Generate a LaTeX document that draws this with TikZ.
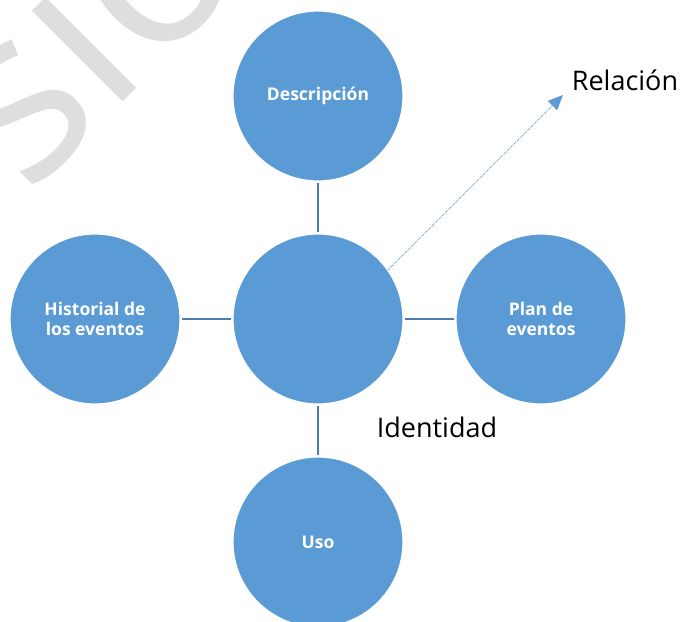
\documentclass[tikz,border=0pt]{standalone}
\usepackage{fontspec}
\setmainfont{Open Sans}
\usetikzlibrary{arrows.meta}
\definecolor{circblue}{HTML}{5B9BD5}
\definecolor{linkblue}{HTML}{4A7EB0}
\definecolor{wmgray}{HTML}{DEDEDE}
\begin{document}
\begin{tikzpicture}[x=1pt,y=-1pt,
  bubble/.style={circle, minimum size=170pt, inner sep=0pt, fill=circblue,
    draw=white, line width=1.2pt, text=white, align=center,
    font=\fontsize{17.5}{20}\selectfont\bfseries},
  link/.style={draw=linkblue, line width=2.6pt, shorten <=1pt, shorten >=1pt},
  relarrow/.style={draw=circblue, line width=1pt, dash pattern=on 1pt off 1pt,
    -{Triangle[length=15pt,width=13pt,fill=circblue]}},
  caption/.style={inner sep=0pt, font=\fontsize{27}{30}\selectfont},
  watermark/.style={inner sep=0pt, anchor=base, rotate=45, text=wmgray,
    font=\fontsize{240}{240}\selectfont}]
\useasboundingbox (0,0) rectangle (682,621);
\begin{scope}
  \clip (0,0) rectangle (682,621);
  \node[watermark] (wm) at (130,95) {\llap{Vers}i\rlap{ón}};
\end{scope}
\node[bubble] (top) at (318,96) {Descripción};
\node[bubble] (left) at (95,319) {Historial de\\los eventos};
\node[bubble] (center) at (318,319) {};
\node[bubble] (right) at (541,319) {Plan de\\eventos};
\node[bubble] (bottom) at (318,542) {Uso};
\draw[link] (top) -- (center);
\draw[link] (left) -- (center);
\draw[link] (right) -- (center);
\draw[link] (bottom) -- (center);
\coordinate (tip) at (563,95);
\draw[relarrow] (center.35) -- (tip);
\node[caption] (rel) at (625,80) {Relación};
\node[caption] (ident) at (437,427) {Identidad};
\end{tikzpicture}
\end{document}
